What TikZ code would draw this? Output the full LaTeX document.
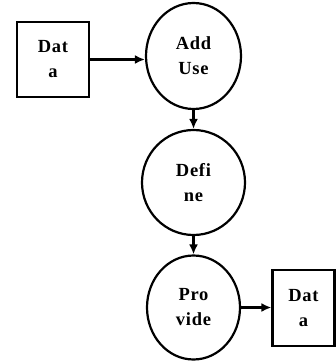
\documentclass[tikz,border=0pt]{standalone}
\usepackage{fontspec}
\setmainfont{Liberation Serif}[LetterSpace=4]
\usepackage{tikz}
\usetikzlibrary{shapes,arrows.meta,positioning}
\tikzstyle{block} = [rectangle, draw, line width=2.2pt, fill=white,
    align=center, inner sep=0pt, font=\fontsize{18.5}{25}\selectfont\bfseries]
\tikzstyle{line} = [draw, -{Latex[length=10pt,width=9pt]}, line width=2.4pt]

\begin{document}
\begin{tikzpicture}[x=1pt, y=1pt]
    % Style definitions
    \tikzstyle{proc} = [ellipse, draw, line width=2.2pt, fill=white,
        align=center, inner sep=0pt, font=\fontsize{18.5}{25}\selectfont\bfseries]
    \useasboundingbox (0,0) rectangle (336,-361);

    % Input and output data
    \node [block, minimum width=72pt, minimum height=75pt] (datain) at (53,-59.5) {Dat\\a};
    \node [block, minimum width=62pt, minimum height=76pt] (dataout) at (303.5,-308) {Dat\\a};

    % Process nodes
    \node [proc, minimum width=95pt, minimum height=106pt] (adduse) at (193.5,-56) {Add\\Use};
    \node [proc, minimum width=103pt, minimum height=105pt] (define) at (193.5,-182.5) {Defi\\ne};
    \node [proc, minimum width=93pt, minimum height=104pt] (provide) at (193.5,-307.5) {Pro\\vide};

    % Connections
    \path [line] (datain.east) -- (datain.east -| adduse.west);
    \path [line] (adduse) -- (define);
    \path [line] (define) -- (provide);
    \path [line] (provide.east) -- (provide.east -| dataout.west);
\end{tikzpicture}
\end{document}
